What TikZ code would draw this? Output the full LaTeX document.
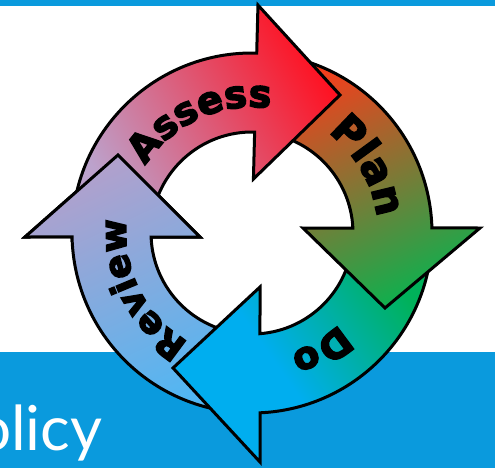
\documentclass[tikz,border=0pt]{standalone}
\usepackage{fontspec}
\usetikzlibrary{decorations.text}
\newfontfamily\heavyfont{DejaVu Sans}[BoldFeatures={FakeBold=4}]
\newfontfamily\policyfont{Lato}
\definecolor{band}{HTML}{0A9ADD}
\definecolor{assessA}{HTML}{BCA2CC}
\definecolor{assessB}{HTML}{FF1020}
\definecolor{planA}{HTML}{F43E1C}
\definecolor{planB}{HTML}{0EB04E}
\definecolor{doA}{HTML}{00B15A}
\definecolor{doB}{HTML}{00AEEF}
\definecolor{revA}{HTML}{B2A0CC}
\definecolor{revB}{HTML}{52B6F2}
\pgfdeclarehorizontalshading{doshade}{100bp}{color(0bp)=(doB); color(44bp)=(doB); color(74bp)=(doA); color(100bp)=(doA)}
\tikzset{
  arrowline/.style={draw=black, line width=3pt, line join=miter},
  assessfill/.style={top color=assessB, bottom color=assessA, shading angle=-60},
  planfill/.style={top color=planA, bottom color=planB, shading angle=25},
  dofill/.style={shading=doshade, shading angle=35},
  revfill/.style={top color=revA, bottom color=revB, shading angle=25},
  arctext/.style 2 args={decorate, decoration={text along path, text align=center, text color=black, text={|\heavyfont\bfseries\fontsize{#2}{#2}\selectfont|#1}}}
}
\begin{document}
\begin{tikzpicture}[x=1pt, y=1pt]
\useasboundingbox (0,0) rectangle (495,-468);
\begin{scope}
  \clip (0,0) rectangle (495,-468);
  \fill[band] (0,0) rectangle (495,-6);
  \fill[band] (0,-352) rectangle (495,-468);
  \node[anchor=base west, inner sep=0pt, text=white, font=\policyfont\fontsize{62}{62}\selectfont] (policy) at (-24,-450) {olicy};
\end{scope}
\begin{scope}[shift={(252,-233)}]
  % Review
  \shadedraw[arrowline, revfill] (-93.5:180) arc[start angle=-93.5, end angle=-178.73, radius=180] -- (-227,-4) -- (-134,78) -- (-52,-4) -- (-177.73:101) arc[start angle=-177.73, end angle=-93.5, radius=101] -- cycle;
  % Do
  \shadedraw[arrowline, dofill] (-4:180) arc[start angle=-4, end angle=-87.45, radius=180] -- (8,-229) -- (-79,-135) -- (8,-54) -- (-85.46:101) arc[start angle=-85.46, end angle=-4, radius=101] -- cycle;
  % Plan
  \shadedraw[arrowline, planfill] (82.5:180) arc[start angle=82.5, end angle=1.6, radius=180] -- (228,5) -- (133,-75) -- (51,5) -- (2.8:101) arc[start angle=2.8, end angle=82.5, radius=101] -- cycle;
  % Assess
  \shadedraw[arrowline, assessfill] (175.5:180) arc[start angle=175.5, end angle=88.5, radius=180] -- (88.5:228) -- (88,138) -- (88.5:54) -- (88.5:101) arc[start angle=88.5, end angle=175.5, radius=101] -- cycle;
  % Review head on top of Assess shaft
  \begin{scope}
    \clip (-242,-9) -- (-134,90) -- (-38,-9) -- cycle;
    \shadedraw[arrowline, revfill] (-93.5:180) arc[start angle=-93.5, end angle=-178.73, radius=180] -- (-227,-4) -- (-134,78) -- (-52,-4) -- (-177.73:101) arc[start angle=-177.73, end angle=-93.5, radius=101] -- cycle;
  \end{scope}
  % labels
  \path[arctext={Assess}{38}] (184.6:126) arc[start angle=184.6, end angle=44.6, radius=126];
  \path[arctext={Plan}{41}] (100:126) arc[start angle=100, end angle=-40, radius=126];
  \path[arctext={Do}{38}] (10.7:126) arc[start angle=10.7, end angle=-129.3, radius=126];
  \path[arctext={Review}{36}] (-83.3:126) arc[start angle=-83.3, end angle=-223.3, radius=126];
\end{scope}
\end{tikzpicture}
\end{document}
